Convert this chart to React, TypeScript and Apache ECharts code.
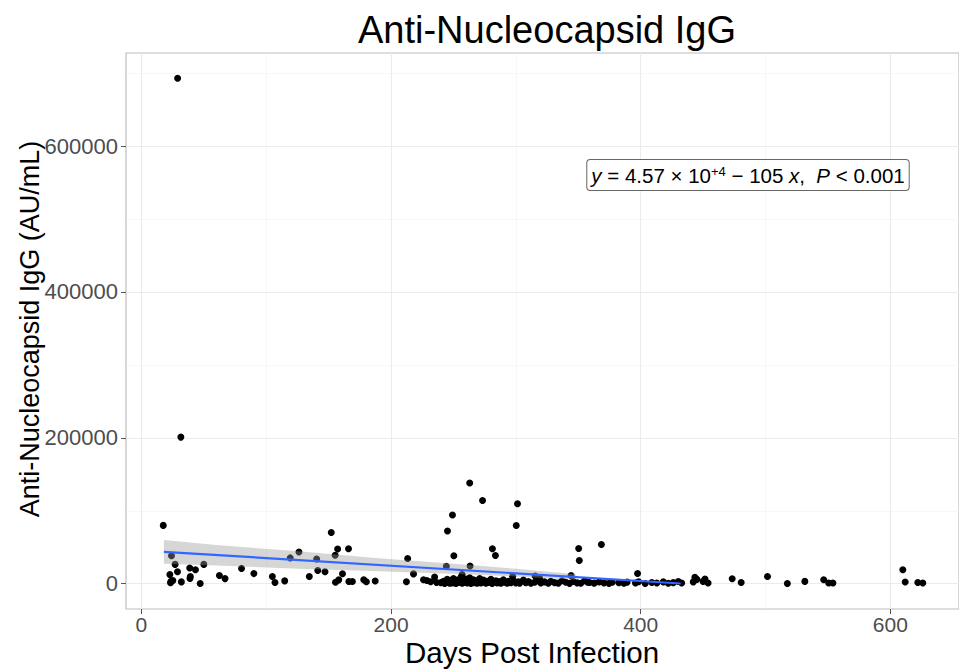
import React, { useEffect, useRef } from "react";
import * as echarts from "echarts";

// ---- data ----
const days: number[] = [
  17.5, 29, 31.6, 24.1, 27, 22.8, 23.8, 25.2, 23.3, 28.9, 32, 38.7, 39.2, 38.9, 43.3, 47.1, 50,
  62.5, 67, 80.2, 90.1, 104.9, 107, 114.8, 119.2, 126.2, 134.5, 140.4, 141.3, 147.1, 152.1,
  155.2, 157.2, 165.9, 161.1, 155.5, 158.1, 166.2, 169, 178.1, 180.2, 187.3, 212.3, 213.3, 218,
  226, 228.7, 231.7, 234.9, 236.5, 245.2, 249.2, 250.3, 244.3, 263, 273.3, 301.3, 300.3, 263.3,
  281.2, 283.6, 350.3, 350.8, 344.2, 315.4, 319, 297.4, 256.9, 368.5, 397.5,
  // dense cluster
  240, 242, 243, 245, 246, 247, 248, 249, 250, 251, 252, 253, 254, 255, 256, 257, 258, 259, 260,
  261, 262, 263, 264, 265, 266, 267, 268, 269, 270, 271, 272, 273, 274, 276, 277, 278, 280, 281,
  282, 284, 285, 287, 288, 290, 291, 293, 294, 296, 298, 300, 302, 303, 306, 308, 310, 312, 315,
  318, 320, 323, 326, 328, 331, 334, 337, 340, 343, 346, 349, 352, 355, 359,
  // late bottom row
  357.5, 362.7, 366.7, 370.6, 374.6, 377.2, 382.5, 386.5, 389.1, 395.8, 398.3, 403.6, 408.9,
  412.9, 418.1, 422.1, 426.1, 430.1, 432.8,
  442.1, 443.4, 445, 450, 451.5, 454, 473.3, 480.5, 501.6, 517.5, 531.5, 546.6, 550.6, 554,
  610, 611.9, 622, 626,
];
const igg: number[] = [
  80000, 693000, 201000, 38400, 26500, 12500, 3200, 4500, 1500, 16400, 2500, 21500, 10000, 7300,
  19200, 300, 26500, 11400, 7000, 21000, 13900, 10000, 1600, 3900, 35400, 43400, 10000, 33800,
  18200, 16400, 70300, 39000, 47500, 48000, 13700, 2000, 5300, 3000, 3000, 5500, 2700, 3700,
  2700, 34700, 13500, 5500, 4500, 2700, 9200, 1800, 72200, 94300, 38400, 24000, 138000, 114100,
  109600, 79900, 24200, 48000, 38800, 48400, 31900, 11400, 10500, 7300, 10000, 12700, 53800,
  14100,
  // dense cluster
  1500, 3500, 500, 6000, 2000, 800, 4500, 1200, 7000, 2500, 400, 5000, 1800, 3000, 9000, 600,
  4000, 2000, 6500, 1000, 3500, 8000, 500, 2500, 5500, 1500, 4000, 800, 3000, 7000, 1200, 2000,
  5000, 800, 3500, 1800, 6000, 500, 2500, 4000, 1000, 3000, 600, 5500, 2000, 800, 3500, 1500,
  4500, 1000, 2500, 600, 5000, 1500, 3000, 800, 2000, 4000, 1000, 2500, 600, 3500, 1500, 800,
  4000, 2000, 500, 3000, 1200, 600, 4000, 1800,
  // late bottom row
  2000, 800, 2500, 1200, 500, 2000, 1500, 600, 2200, 1000, 2800, 400, 1800, 1000, 2500, 700,
  1500, 3000, 1000,
  2500, 8800, 6000, 3200, 6400, 1000, 6800, 1800, 10000, 400, 3200, 5500, 900, 900,
  19200, 2300, 1800, 900,
];

// fitted line (y = 4.57e4 - 105 x) end points, and its confidence band as drawn
const fitX: number[] = [18, 432];
const fitY: number[] = [43800, 340];
const bandX: number[] = [18, 60, 126, 190, 253, 300, 348];
const bandLower: number[] = [27500, 25000, 20500, 17000, 13500, 10000, 5500];
const bandUpper: number[] = [60000, 53000, 44500, 35000, 27000, 20500, 13000];

// axes
const xTicks: number[] = [0, 200, 400, 600];
const yTicks: number[] = [0, 200000, 400000, 600000];
const xMajor: number[] = [0, 200, 400, 600];
const xMinor: number[] = [100, 300, 500];
const yMajor: number[] = [0, 200000, 400000, 600000];
const yMinor: number[] = [100000, 300000, 500000, 700000];
const xRange: number[] = [-12.35, 655];
const yRange: number[] = [-34650, 727650];

const FONT = "'Liberation Sans', Arial, Helvetica, sans-serif";

export default function App() {
  const ref = useRef<HTMLDivElement>(null);

  useEffect(() => {
    if (!ref.current) return;
    const chart = echarts.init(ref.current, undefined, { renderer: "svg" });

    const minorStyle = { color: "#F4F4F4", width: 0.7, type: "solid" as const };
    const majorStyle = { color: "#EBEBEB", width: 1.1, type: "solid" as const };
    const gridMarks = [
      ...xMinor.map((v) => ({ xAxis: v, lineStyle: minorStyle })),
      ...yMinor.map((v) => ({ yAxis: v, lineStyle: minorStyle })),
      ...xMajor.map((v) => ({ xAxis: v, lineStyle: majorStyle })),
      ...yMajor.map((v) => ({ yAxis: v, lineStyle: majorStyle })),
    ];

    chart.setOption({
      animation: false,
      backgroundColor: "#FFFFFF",
      textStyle: { fontFamily: FONT },
      grid: {
        left: 126,
        top: 53,
        right: -7.6,
        bottom: 60,
        show: true,
        borderColor: "#BDBDBD",
        borderWidth: 1.2,
        backgroundColor: "transparent",
      },
      xAxis: {
        type: "value",
        min: xRange[0],
        max: xRange[1],
        axisLine: { show: false, onZero: false },
        splitLine: { show: false },
        axisTick: {
          show: true,
          customValues: xTicks,
          length: 5,
          lineStyle: { color: "#555555", width: 1 },
        },
        axisLabel: {
          customValues: xTicks,
          color: "#4D4D4D",
          fontSize: 21,
          fontFamily: FONT,
          margin: 5,
          formatter: (v: number) => String(v),
        },
      },
      yAxis: {
        type: "value",
        min: yRange[0],
        max: yRange[1],
        axisLine: { show: false, onZero: false },
        splitLine: { show: false },
        axisTick: {
          show: true,
          customValues: yTicks,
          length: 5,
          lineStyle: { color: "#555555", width: 1 },
        },
        axisLabel: {
          customValues: yTicks,
          color: "#4D4D4D",
          fontSize: 22,
          fontFamily: FONT,
          margin: 8,
          formatter: (v: number) => String(v),
        },
      },
      series: [
        {
          type: "line",
          data: [],
          silent: true,
          z: 1,
          markLine: {
            silent: true,
            symbol: "none",
            z: 1,
            label: { show: false },
            animation: false,
            lineStyle: { type: "solid" },
            data: gridMarks,
          },
        },
        {
          type: "scatter",
          data: days.map((d, i) => [d, igg[i]]),
          symbolSize: 7,
          itemStyle: { color: "#000000", opacity: 1, borderWidth: 0 },
          z: 6,
          silent: true,
        },
        {
          type: "custom",
          z: 7,
          silent: true,
          data: bandX.map((x, i) => [x, bandLower[i], bandUpper[i]]),
          renderItem: (params: any, api: any) => {
            if (params.dataIndex !== 0) return null;
            const pts: number[][] = [];
            for (let i = 0; i < bandX.length; i++) pts.push(api.coord([bandX[i], bandUpper[i]]));
            for (let i = bandX.length - 1; i >= 0; i--) pts.push(api.coord([bandX[i], bandLower[i]]));
            return {
              type: "polygon",
              shape: { points: pts },
              style: { fill: "rgba(153,153,153,0.4)", stroke: "none" },
            };
          },
        },
        {
          type: "line",
          data: fitX.map((x, i) => [x, fitY[i]]),
          showSymbol: false,
          symbol: "none",
          lineStyle: { color: "#3366FF", width: 2.2 },
          z: 8,
          silent: true,
        },
      ],
      graphic: [
        {
          type: "text",
          x: 547,
          y: 30,
          style: {
            text: "Anti-Nucleocapsid IgG",
            fontSize: 38,
            fontFamily: FONT,
            fill: "#000000",
            align: "center",
            verticalAlign: "middle",
          },
        },
        {
          type: "text",
          x: 532,
          y: 652,
          style: {
            text: "Days Post Infection",
            fontSize: 29.5,
            fontFamily: FONT,
            fill: "#000000",
            align: "center",
            verticalAlign: "middle",
          },
        },
        {
          type: "text",
          x: 30,
          y: 329,
          rotation: Math.PI / 2,
          style: {
            text: "Anti-Nucleocapsid IgG (AU/mL)",
            fontSize: 27,
            fontFamily: FONT,
            fill: "#000000",
            align: "center",
            verticalAlign: "middle",
          },
        },
        {
          type: "text",
          x: 748,
          y: 175,
          z: 10,
          style: {
            text: "{i|y} = 4.57 × 10{s|+4} − 105 {i|x},  {i|P} < 0.001",
            rich: {
              i: { fontStyle: "italic", fontSize: 20.5, fontFamily: FONT, fill: "#000" },
              s: { fontSize: 13, fontFamily: FONT, fill: "#000", verticalAlign: "top" },
            },
            fontSize: 20.5,
            fontFamily: FONT,
            fill: "#000000",
            align: "center",
            verticalAlign: "middle",
            backgroundColor: "#FFFFFF",
            borderColor: "#666666",
            borderWidth: 1,
            borderRadius: 3,
            padding: [5, 4, 4, 4],
          },
        },
      ],
    });

    return () => chart.dispose();
  }, []);

  return (
    <div
      ref={ref}
      style={{ position: "fixed", left: 0, top: 0, width: 959, height: 669 }}
    />
  );
}
